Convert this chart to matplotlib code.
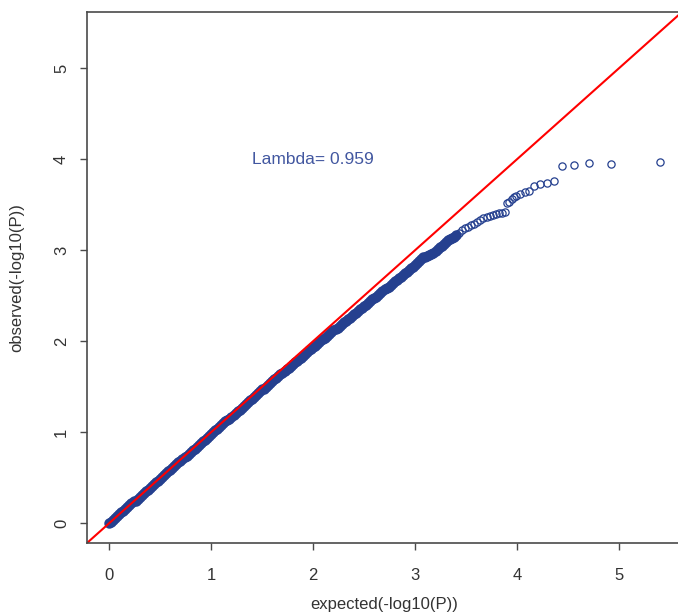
import matplotlib
matplotlib.use("Agg")
import matplotlib.pyplot as plt

plt.rcParams['font.family'] = ['Liberation Sans', 'DejaVu Sans']

# Dense part of the QQ curve (expected vs observed -log10(P))
expected_dense = [
    0.00, 0.02, 0.04, 0.06, 0.08, 0.10, 0.12, 0.14, 0.16, 0.18,
    0.20, 0.22, 0.24, 0.26, 0.28, 0.30, 0.32, 0.34, 0.36, 0.38,
    0.40, 0.42, 0.44, 0.46, 0.48, 0.50, 0.52, 0.54, 0.56, 0.58,
    0.60, 0.62, 0.64, 0.66, 0.68, 0.70, 0.72, 0.74, 0.76, 0.78,
    0.80, 0.82, 0.84, 0.86, 0.88, 0.90, 0.92, 0.94, 0.96, 0.98,
    1.00, 1.02, 1.04, 1.06, 1.08, 1.10, 1.12, 1.14, 1.16, 1.18,
    1.20, 1.22, 1.24, 1.26, 1.28, 1.30, 1.32, 1.34, 1.36, 1.38,
    1.40, 1.42, 1.44, 1.46, 1.48, 1.50, 1.52, 1.54, 1.56, 1.58,
    1.60, 1.62, 1.64, 1.66, 1.68, 1.70, 1.72, 1.74, 1.76, 1.78,
    1.80, 1.82, 1.84, 1.86, 1.88, 1.90, 1.92, 1.94, 1.96, 1.98,
    2.00, 2.02, 2.04, 2.06, 2.08, 2.10, 2.12, 2.14, 2.16, 2.18,
    2.20, 2.22, 2.24, 2.26, 2.28, 2.30, 2.32, 2.34, 2.36, 2.38,
    2.40, 2.42, 2.44, 2.46, 2.48, 2.50, 2.52, 2.54, 2.56, 2.58,
    2.60, 2.62, 2.64, 2.66, 2.68, 2.70, 2.72, 2.74, 2.76, 2.78,
    2.80, 2.82, 2.84, 2.86, 2.88, 2.90, 2.92, 2.94, 2.96, 2.98,
    3.00, 3.02, 3.04, 3.06, 3.08, 3.10, 3.12, 3.14, 3.16, 3.18,
    3.20, 3.22, 3.24, 3.26, 3.28, 3.30, 3.32, 3.34, 3.36, 3.38,
    3.40,
]
observed_dense = [
    0.00, 0.02, 0.04, 0.06, 0.08, 0.10, 0.12, 0.14, 0.16, 0.18,
    0.20, 0.22, 0.24, 0.25, 0.27, 0.29, 0.31, 0.33, 0.35, 0.37,
    0.39, 0.41, 0.43, 0.45, 0.47, 0.49, 0.51, 0.53, 0.55, 0.57,
    0.59, 0.61, 0.63, 0.65, 0.67, 0.69, 0.71, 0.73, 0.74, 0.76,
    0.78, 0.80, 0.82, 0.84, 0.86, 0.88, 0.90, 0.92, 0.94, 0.96,
    0.98, 1.00, 1.02, 1.04, 1.06, 1.08, 1.10, 1.12, 1.14, 1.15,
    1.17, 1.19, 1.21, 1.23, 1.25, 1.27, 1.29, 1.31, 1.33, 1.35,
    1.37, 1.39, 1.41, 1.43, 1.45, 1.47, 1.48, 1.50, 1.52, 1.54,
    1.56, 1.58, 1.60, 1.62, 1.64, 1.65, 1.67, 1.69, 1.71, 1.73,
    1.75, 1.77, 1.78, 1.80, 1.82, 1.84, 1.86, 1.88, 1.90, 1.92,
    1.94, 1.95, 1.97, 1.99, 2.01, 2.03, 2.04, 2.06, 2.08, 2.10,
    2.12, 2.13, 2.15, 2.17, 2.19, 2.21, 2.22, 2.24, 2.26, 2.28,
    2.30, 2.31, 2.33, 2.35, 2.37, 2.39, 2.40, 2.42, 2.44, 2.46,
    2.48, 2.49, 2.51, 2.53, 2.55, 2.57, 2.58, 2.60, 2.62, 2.64,
    2.66, 2.67, 2.69, 2.71, 2.73, 2.75, 2.76, 2.78, 2.80, 2.82,
    2.84, 2.86, 2.88, 2.90, 2.92, 2.93, 2.94, 2.95, 2.96, 2.97,
    2.99, 3.01, 3.03, 3.05, 3.07, 3.09, 3.11, 3.12, 3.13, 3.15,
    3.17,
]

# Sparser upper tail
expected_tail = [
    3.43, 3.46, 3.49, 3.52, 3.55, 3.58, 3.61, 3.64, 3.67,
    3.70, 3.73, 3.76, 3.79, 3.82, 3.85, 3.88, 3.90, 3.92, 3.95,
    3.97, 3.99, 4.03, 4.08, 4.12, 4.17, 4.225, 4.29, 4.363, 4.444,
    4.562, 4.70, 4.918, 5.40,
]
observed_tail = [
    3.19, 3.22, 3.24, 3.26, 3.28, 3.29, 3.31, 3.33, 3.35,
    3.36, 3.37, 3.39, 3.40, 3.41, 3.41, 3.42, 3.52, 3.53, 3.56,
    3.58, 3.60, 3.62, 3.64, 3.65, 3.71, 3.725, 3.74, 3.765, 3.925,
    3.933, 3.955, 3.951, 3.97,
]

x_ticks = [0, 1, 2, 3, 4, 5]
y_ticks = [0, 1, 2, 3, 4, 5]
lambda_text = "Lambda= 0.959"
x_label = "expected(-log10(P))"
y_label = "observed(-log10(P))"

point_color = "#25408f"
axis_color = "#4a4a4a"

fig = plt.figure(figsize=(6.78, 6.16), dpi=100)
ax = fig.add_axes([87 / 678, 73 / 616, 595 / 678, 531 / 616])

data_max = max(expected_tail)
ext = 0.04 * data_max
ax.set_xlim(-ext, data_max + ext)
ax.set_ylim(-ext, data_max + ext)

ax.plot(expected_dense, observed_dense, linestyle='none', marker='o',
        markersize=5.0, markerfacecolor='none', markeredgecolor=point_color,
        markeredgewidth=2.5)
ax.plot(expected_tail, observed_tail, linestyle='none', marker='o',
        markersize=5.2, markerfacecolor='none', markeredgecolor=point_color,
        markeredgewidth=0.9)
ax.axline((0, 0), slope=1, color='#ff0000', linewidth=1.5)

ax.text(2, 4, lambda_text, ha='center', va='center', fontsize=12.5,
        color='#4257a0')

ax.set_xticks(x_ticks)
ax.set_yticks(y_ticks)
ax.tick_params(axis='both', direction='out', length=5, width=1,
               color=axis_color, labelcolor='#333333', labelsize=12)
ax.tick_params(axis='x', pad=13)
ax.tick_params(axis='y', pad=8, labelrotation=90)
for lab in ax.get_yticklabels():
    lab.set_va('center')

for side in ['left', 'bottom', 'top']:
    ax.spines[side].set_color(axis_color)
    ax.spines[side].set_linewidth(1.2)
ax.spines['right'].set_visible(False)

ax.set_xlabel(x_label, fontsize=12, color='#333333', va='center')
ax.set_ylabel(y_label, fontsize=12, color='#333333', va='center')
ax.xaxis.set_label_coords(0.5, (543 - 605) / 531)
ax.yaxis.set_label_coords((17 - 87) / 595, 0.5)

fig.savefig("out.png", dpi=100)
